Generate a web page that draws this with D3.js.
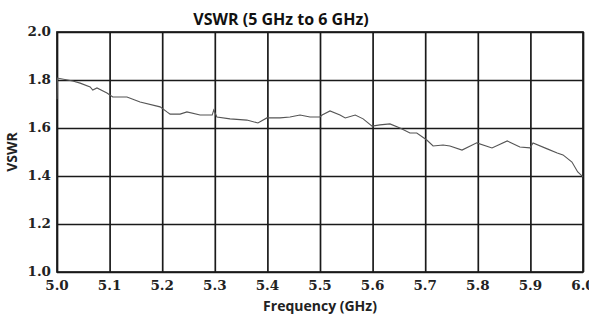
<!DOCTYPE html>
<html>
<head>
<meta charset="utf-8">
<script src="https://cdn.jsdelivr.net/npm/d3@7"></script>
<style>
	body { margin: 0; background: #fff; }
	svg { display: block; }
	.tick-label { font-family: "DejaVu Serif", serif; font-weight: bold; font-size: 13.5px; fill: #222; }
	.axis-title { font-family: "Open Sans", sans-serif; font-weight: bold; font-size: 14px; fill: #222; }
	.chart-title { font-family: "Open Sans", sans-serif; font-weight: bold; font-size: 16px; fill: #111; }
</style>
</head>
<body>
<div id="chart"></div>
<script>

///////////////////////////////////////////////////////////////////////////
///////////////////////////////// Data ////////////////////////////////////
///////////////////////////////////////////////////////////////////////////

//Frequency in GHz
var freq = [5.000, 5.001, 5.030, 5.044, 5.063, 5.068, 5.076, 5.095, 5.106, 5.133,
	5.158, 5.196, 5.209, 5.215, 5.234, 5.247, 5.272, 5.295, 5.298, 5.304,
	5.329, 5.361, 5.382, 5.399, 5.424, 5.443, 5.462, 5.481, 5.500, 5.504,
	5.519, 5.538, 5.548, 5.567, 5.582, 5.599, 5.614, 5.633, 5.652, 5.671,
	5.684, 5.703, 5.715, 5.734, 5.747, 5.770, 5.798, 5.827, 5.856, 5.880,
	5.899, 5.905, 5.932, 5.951, 5.962, 5.979, 5.990, 6.000];

var vswr = [1.720, 1.808, 1.796, 1.787, 1.771, 1.758, 1.767, 1.746, 1.729, 1.729,
	1.708, 1.688, 1.667, 1.658, 1.658, 1.667, 1.654, 1.654, 1.675, 1.646,
	1.638, 1.633, 1.621, 1.642, 1.642, 1.646, 1.654, 1.646, 1.646, 1.654,
	1.671, 1.654, 1.642, 1.654, 1.638, 1.608, 1.613, 1.617, 1.600, 1.579,
	1.579, 1.550, 1.525, 1.529, 1.525, 1.508, 1.538, 1.517, 1.546, 1.521,
	1.517, 1.538, 1.513, 1.496, 1.488, 1.458, 1.417, 1.396];

var xTicks = [5.0, 5.1, 5.2, 5.3, 5.4, 5.5, 5.6, 5.7, 5.8, 5.9, 6.0];
var yTicks = [1.0, 1.2, 1.4, 1.6, 1.8, 2.0];

///////////////////////////////////////////////////////////////////////////
//////////////////////////// Set up the SVG ///////////////////////////////
///////////////////////////////////////////////////////////////////////////

var totalWidth = 589,
	totalHeight = 318;

var margin = { top: 32, right: 6, bottom: 46, left: 57 };
var width = totalWidth - margin.left - margin.right,
	height = totalHeight - margin.top - margin.bottom;

var svg = d3.select("#chart")
	.append("svg")
	.attr("width", totalWidth)
	.attr("height", totalHeight);

var g = svg.append("g")
	.attr("transform", "translate(" + margin.left + "," + margin.top + ")");

var x = d3.scaleLinear().domain([5.0, 6.0]).range([0, width]);
var y = d3.scaleLinear().domain([1.0, 2.0]).range([height, 0]);

///////////////////////////////////////////////////////////////////////////
///////////////////////////////// Grid ////////////////////////////////////
///////////////////////////////////////////////////////////////////////////

//Vertical grid lines
g.append("g")
	.attr("class", "x-grid")
	.attr("transform", "translate(0," + height + ")")
	.call(d3.axisBottom(x).tickValues(xTicks).tickSize(-height).tickFormat(""))
	.call(function(s) {
		s.select(".domain").remove();
		s.selectAll("line").attr("stroke", "#1a1a1a").attr("stroke-width", 1.7);
	});

//Horizontal grid lines
g.append("g")
	.attr("class", "y-grid")
	.call(d3.axisLeft(y).tickValues(yTicks).tickSize(-width).tickFormat(""))
	.call(function(s) {
		s.select(".domain").remove();
		s.selectAll("line").attr("stroke", "#1a1a1a").attr("stroke-width", 1.7);
	});

//Frame
g.append("rect")
	.attr("width", width)
	.attr("height", height)
	.attr("fill", "none")
	.attr("stroke", "#1a1a1a")
	.attr("stroke-width", 1.7);

///////////////////////////////////////////////////////////////////////////
///////////////////////////// Tick labels /////////////////////////////////
///////////////////////////////////////////////////////////////////////////

//The last x label runs off the right edge, as it does in the original
g.selectAll(".x-label")
	.data(xTicks)
	.enter().append("text")
	.attr("class", "tick-label")
	.attr("x", function(d) { return x(d); })
	.attr("y", height + 18)
	.attr("text-anchor", "middle")
	.text(function(d) { return d.toFixed(1); });

g.selectAll(".y-label")
	.data(yTicks)
	.enter().append("text")
	.attr("class", "tick-label")
	.attr("x", -6)
	.attr("y", function(d) { return y(d); })
	.attr("dy", "0.3em")
	.attr("text-anchor", "end")
	.text(function(d) { return d.toFixed(1); });

///////////////////////////////////////////////////////////////////////////
/////////////////////////////// The trace /////////////////////////////////
///////////////////////////////////////////////////////////////////////////

var points = freq.map(function(f, i) { return [f, vswr[i]]; });

var line = d3.line()
	.x(function(d) { return x(d[0]); })
	.y(function(d) { return y(d[1]); });

g.append("path")
	.datum(points)
	.attr("fill", "none")
	.attr("stroke", "#555")
	.attr("stroke-width", 1.1)
	.attr("d", line);

///////////////////////////////////////////////////////////////////////////
/////////////////////////////// Titles ////////////////////////////////////
///////////////////////////////////////////////////////////////////////////

svg.append("text")
	.attr("class", "chart-title")
	.attr("x", 281)
	.attr("y", 25)
	.attr("text-anchor", "middle")
	.text("VSWR (5 GHz to 6 GHz)");

svg.append("text")
	.attr("class", "axis-title")
	.attr("x", margin.left + width/2)
	.attr("y", 311)
	.attr("text-anchor", "middle")
	.text("Frequency (GHz)");

svg.append("text")
	.attr("class", "axis-title")
	.attr("transform", "translate(17," + (margin.top + height/2) + ") rotate(-90)")
	.attr("text-anchor", "middle")
	.text("VSWR");

</script>
</body>
</html>
